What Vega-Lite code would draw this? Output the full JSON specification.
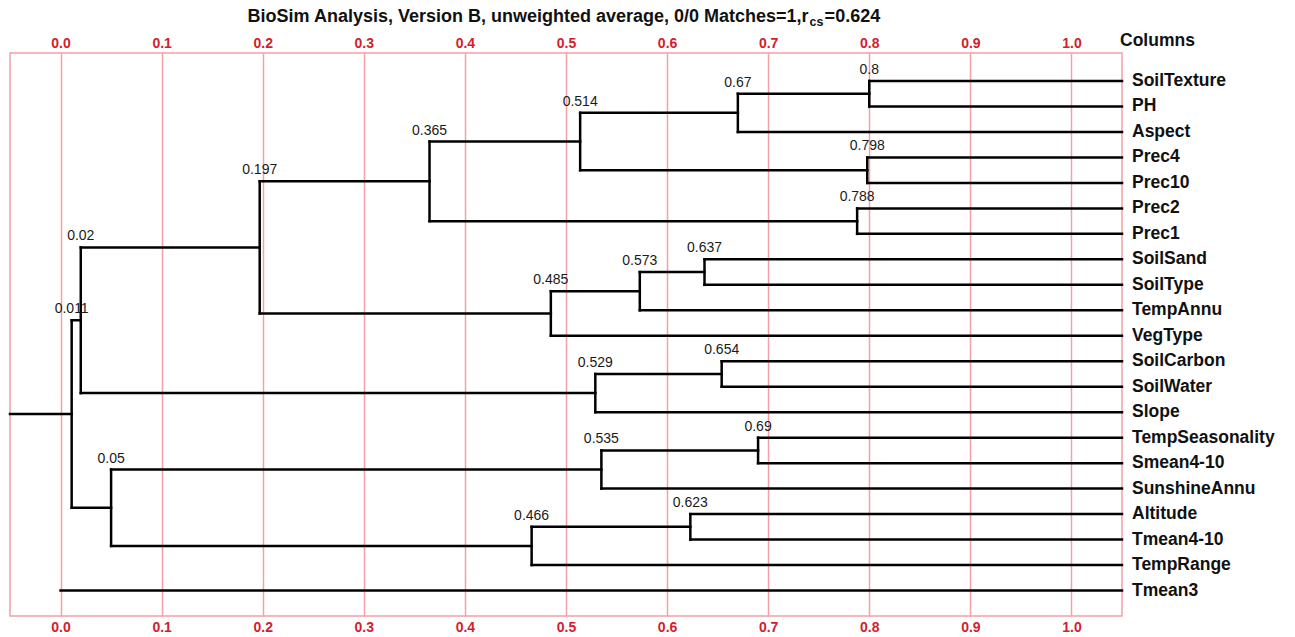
{
  "$schema": "https://vega.github.io/schema/vega-lite/v6.json",
  "autosize": "none",
  "width": 1112,
  "height": 563,
  "padding": {"left": 10, "top": 53, "right": 173, "bottom": 21},
  "background": "white",
  "config": {
    "view": {"stroke": "#f4a0a6", "strokeWidth": 1.5},
    "font": "Liberation Sans"
  },
  "datasets": {
    "segments": [
      {"x": 0.8, "x2": 0.8, "y": 0, "y2": 1},
      {"x": 0.67, "x2": 0.67, "y": 0.5, "y2": 2},
      {"x": 0.798, "x2": 0.798, "y": 3, "y2": 4},
      {"x": 0.514, "x2": 0.514, "y": 1.25, "y2": 3.5},
      {"x": 0.788, "x2": 0.788, "y": 5, "y2": 6},
      {"x": 0.365, "x2": 0.365, "y": 2.375, "y2": 5.5},
      {"x": 0.637, "x2": 0.637, "y": 7, "y2": 8},
      {"x": 0.573, "x2": 0.573, "y": 7.5, "y2": 9},
      {"x": 0.485, "x2": 0.485, "y": 8.25, "y2": 10},
      {"x": 0.197, "x2": 0.197, "y": 3.9375, "y2": 9.125},
      {"x": 0.654, "x2": 0.654, "y": 11, "y2": 12},
      {"x": 0.529, "x2": 0.529, "y": 11.5, "y2": 13},
      {"x": 0.02, "x2": 0.02, "y": 6.53125, "y2": 12.25},
      {"x": 0.69, "x2": 0.69, "y": 14, "y2": 15},
      {"x": 0.535, "x2": 0.535, "y": 14.5, "y2": 16},
      {"x": 0.623, "x2": 0.623, "y": 17, "y2": 18},
      {"x": 0.466, "x2": 0.466, "y": 17.5, "y2": 19},
      {"x": 0.05, "x2": 0.05, "y": 15.25, "y2": 18.25},
      {"x": 0.011, "x2": 0.011, "y": 9.390625, "y2": 16.75},
      {"x": 0.8, "x2": 1.05, "y": 0, "y2": 0},
      {"x": 0.8, "x2": 1.05, "y": 1, "y2": 1},
      {"x": 0.67, "x2": 1.05, "y": 2, "y2": 2},
      {"x": 0.798, "x2": 1.05, "y": 3, "y2": 3},
      {"x": 0.798, "x2": 1.05, "y": 4, "y2": 4},
      {"x": 0.788, "x2": 1.05, "y": 5, "y2": 5},
      {"x": 0.788, "x2": 1.05, "y": 6, "y2": 6},
      {"x": 0.637, "x2": 1.05, "y": 7, "y2": 7},
      {"x": 0.637, "x2": 1.05, "y": 8, "y2": 8},
      {"x": 0.573, "x2": 1.05, "y": 9, "y2": 9},
      {"x": 0.485, "x2": 1.05, "y": 10, "y2": 10},
      {"x": 0.654, "x2": 1.05, "y": 11, "y2": 11},
      {"x": 0.654, "x2": 1.05, "y": 12, "y2": 12},
      {"x": 0.529, "x2": 1.05, "y": 13, "y2": 13},
      {"x": 0.69, "x2": 1.05, "y": 14, "y2": 14},
      {"x": 0.69, "x2": 1.05, "y": 15, "y2": 15},
      {"x": 0.535, "x2": 1.05, "y": 16, "y2": 16},
      {"x": 0.623, "x2": 1.05, "y": 17, "y2": 17},
      {"x": 0.623, "x2": 1.05, "y": 18, "y2": 18},
      {"x": 0.466, "x2": 1.05, "y": 19, "y2": 19},
      {"x": 0.0, "x2": 1.05, "y": 20, "y2": 20},
      {"x": 0.67, "x2": 0.8, "y": 0.5, "y2": 0.5},
      {"x": 0.514, "x2": 0.67, "y": 1.25, "y2": 1.25},
      {"x": 0.514, "x2": 0.798, "y": 3.5, "y2": 3.5},
      {"x": 0.365, "x2": 0.514, "y": 2.375, "y2": 2.375},
      {"x": 0.365, "x2": 0.788, "y": 5.5, "y2": 5.5},
      {"x": 0.197, "x2": 0.365, "y": 3.9375, "y2": 3.9375},
      {"x": 0.197, "x2": 0.485, "y": 9.125, "y2": 9.125},
      {"x": 0.573, "x2": 0.637, "y": 7.5, "y2": 7.5},
      {"x": 0.485, "x2": 0.573, "y": 8.25, "y2": 8.25},
      {"x": 0.02, "x2": 0.197, "y": 6.53125, "y2": 6.53125},
      {"x": 0.02, "x2": 0.529, "y": 12.25, "y2": 12.25},
      {"x": 0.529, "x2": 0.654, "y": 11.5, "y2": 11.5},
      {"x": 0.535, "x2": 0.69, "y": 14.5, "y2": 14.5},
      {"x": 0.05, "x2": 0.535, "y": 15.25, "y2": 15.25},
      {"x": 0.466, "x2": 0.623, "y": 17.5, "y2": 17.5},
      {"x": 0.05, "x2": 0.466, "y": 18.25, "y2": 18.25},
      {"x": 0.011, "x2": 0.02, "y": 9.390625, "y2": 9.390625},
      {"x": 0.011, "x2": 0.05, "y": 16.75, "y2": 16.75},
      {"x": -0.05, "x2": 0.011, "y": 13.0703125, "y2": 13.0703125}
    ],
    "nodes": [
      {"label": "0.8", "h": 0.8, "top": 0},
      {"label": "0.67", "h": 0.67, "top": 0.5},
      {"label": "0.798", "h": 0.798, "top": 3},
      {"label": "0.514", "h": 0.514, "top": 1.25},
      {"label": "0.788", "h": 0.788, "top": 5},
      {"label": "0.365", "h": 0.365, "top": 2.375},
      {"label": "0.637", "h": 0.637, "top": 7},
      {"label": "0.573", "h": 0.573, "top": 7.5},
      {"label": "0.485", "h": 0.485, "top": 8.25},
      {"label": "0.197", "h": 0.197, "top": 3.9375},
      {"label": "0.654", "h": 0.654, "top": 11},
      {"label": "0.529", "h": 0.529, "top": 11.5},
      {"label": "0.02", "h": 0.02, "top": 6.53125},
      {"label": "0.69", "h": 0.69, "top": 14},
      {"label": "0.535", "h": 0.535, "top": 14.5},
      {"label": "0.623", "h": 0.623, "top": 17},
      {"label": "0.466", "h": 0.466, "top": 17.5},
      {"label": "0.05", "h": 0.05, "top": 15.25},
      {"label": "0.011", "h": 0.011, "top": 9.390625}
    ],
    "leaves": [
      {"name": "SoilTexture", "row": 0},
      {"name": "PH", "row": 1},
      {"name": "Aspect", "row": 2},
      {"name": "Prec4", "row": 3},
      {"name": "Prec10", "row": 4},
      {"name": "Prec2", "row": 5},
      {"name": "Prec1", "row": 6},
      {"name": "SoilSand", "row": 7},
      {"name": "SoilType", "row": 8},
      {"name": "TempAnnu", "row": 9},
      {"name": "VegType", "row": 10},
      {"name": "SoilCarbon", "row": 11},
      {"name": "SoilWater", "row": 12},
      {"name": "Slope", "row": 13},
      {"name": "TempSeasonality", "row": 14},
      {"name": "Smean4-10", "row": 15},
      {"name": "SunshineAnnu", "row": 16},
      {"name": "Altitude", "row": 17},
      {"name": "Tmean4-10", "row": 18},
      {"name": "TempRange", "row": 19},
      {"name": "Tmean3", "row": 20}
    ]
  },
  "resolve": {"scale": {"x": "shared", "y": "shared"}, "axis": {"x": "independent"}},
  "layer": [
    {
      "data": {"name": "segments"},
      "mark": {"type": "rule", "color": "#000000", "strokeWidth": 2.5, "strokeCap": "square"},
      "encoding": {
        "x": {
          "field": "x", "type": "quantitative",
          "scale": {"domain": [-0.05, 1.05], "nice": false, "zero": false},
          "axis": {
            "orient": "top", "title": null, "values": [0, 0.1, 0.2, 0.3, 0.4, 0.5, 0.6, 0.7, 0.8, 0.9, 1.0],
            "format": ".1f", "ticks": false, "domain": false,
            "grid": true, "gridColor": "#f4a0a6", "gridWidth": 1.5, "gridOpacity": 1,
            "labelColor": "#d4202c", "labelFont": "Liberation Sans", "labelFontSize": 14,
            "labelFontWeight": "bold", "labelPadding": 3
          }
        },
        "x2": {"field": "x2"},
        "y": {
          "field": "y", "type": "quantitative",
          "scale": {"domain": [-1.1, 21.0], "nice": false, "zero": false, "reverse": true},
          "axis": null
        },
        "y2": {"field": "y2"}
      }
    },
    {
      "data": {"name": "nodes"},
      "mark": {"type": "text", "font": "Liberation Sans", "fontSize": 14, "color": "#1a1a1a", "align": "center", "baseline": "bottom", "dy": -4},
      "encoding": {
        "x": {
          "field": "h", "type": "quantitative",
          "axis": {
            "orient": "bottom", "title": null, "values": [0, 0.1, 0.2, 0.3, 0.4, 0.5, 0.6, 0.7, 0.8, 0.9, 1.0],
            "format": ".1f", "ticks": false, "domain": false, "grid": false,
            "labelColor": "#d4202c", "labelFont": "Liberation Sans", "labelFontSize": 14,
            "labelFontWeight": "bold", "labelPadding": 4
          }
        },
        "y": {"field": "top", "type": "quantitative"},
        "text": {"field": "label"}
      }
    },
    {
      "data": {"name": "leaves"},
      "mark": {"type": "text", "font": "Liberation Sans", "fontSize": 17.5, "fontWeight": "bold", "color": "#111111", "align": "left", "baseline": "middle", "dx": 10},
      "encoding": {
        "x": {"datum": 1.05, "type": "quantitative", "axis": null},
        "y": {"field": "row", "type": "quantitative"},
        "text": {"field": "name"}
      }
    },
    {
      "data": {"values": [{"t": "Columns"}]},
      "mark": {"type": "text", "font": "Liberation Sans", "fontSize": 17.5, "fontWeight": "bold", "color": "#111111", "align": "left", "baseline": "middle", "dx": -2, "dy": -12},
      "encoding": {
        "x": {"datum": 1.05, "type": "quantitative", "axis": null},
        "y": {"datum": -1.1, "type": "quantitative"},
        "text": {"field": "t"}
      }
    },
    {
      "data": {"values": [{"t": "BioSim Analysis, Version B, unweighted average, 0/0 Matches=1,r"}]},
      "mark": {"type": "text", "font": "Liberation Sans", "fontSize": 18, "fontWeight": "bold", "color": "#111111", "align": "right", "baseline": "middle", "dy": -36},
      "encoding": {
        "x": {"datum": 0.74, "type": "quantitative", "axis": null},
        "y": {"datum": -1.1, "type": "quantitative"},
        "text": {"field": "t"}
      }
    },
    {
      "data": {"values": [{"t": "cs"}]},
      "mark": {"type": "text", "font": "Liberation Sans", "fontSize": 12.5, "fontWeight": "bold", "color": "#111111", "align": "left", "baseline": "middle", "dx": 1, "dy": -31},
      "encoding": {
        "x": {"datum": 0.74, "type": "quantitative", "axis": null},
        "y": {"datum": -1.1, "type": "quantitative"},
        "text": {"field": "t"}
      }
    },
    {
      "data": {"values": [{"t": "=0.624"}]},
      "mark": {"type": "text", "font": "Liberation Sans", "fontSize": 18, "fontWeight": "bold", "color": "#111111", "align": "left", "baseline": "middle", "dx": 16, "dy": -36},
      "encoding": {
        "x": {"datum": 0.74, "type": "quantitative", "axis": null},
        "y": {"datum": -1.1, "type": "quantitative"},
        "text": {"field": "t"}
      }
    }
  ]
}
